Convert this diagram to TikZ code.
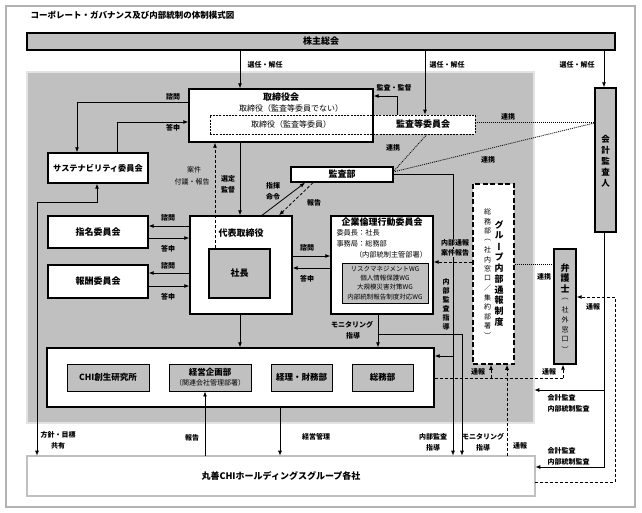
\documentclass[tikz,border=0pt]{standalone}
\usepackage{fontspec}
\setmainfont{Noto Sans CJK JP}
\newfontfamily\vjp[RawFeature=+vert]{Noto Sans CJK JP}
\usetikzlibrary{arrows.meta,calc}
\definecolor{bg}{RGB}{192,192,192}
\newcommand\fsz[1]{\fontsize{#1}{#1}\selectfont}
\newcommand\vstk[6]{\foreach \c [count=\i from 0] in {#5} {\node[font=#4, inner sep=0pt] (#6\i) at (#1, #2+\i*#3) {\c};}}
\tikzset{
  bx/.style={draw, line width=1.4pt, fill=white, inner sep=0pt, font=\fsz{9}\bfseries},
  gbx/.style={bx, fill=bg},
  ibx/.style={draw, line width=0.9pt, fill=bg, inner sep=0pt, font=\fsz{8.5}\bfseries},
  con/.style={line width=0.8pt},
  arr/.style={con, ->},
  darr/.style={con, ->, dash pattern=on 3pt off 2pt},
  dsh/.style={con, dash pattern=on 3pt off 2pt},
  dotl/.style={con, dash pattern=on 1pt off 1pt},
  lbl/.style={font=\fsz{7}\bfseries, inner sep=0.5pt},
  dbl/.style={draw, line width=0.6pt, double distance=1.3pt, inner sep=0pt},
}
\begin{document}
\begin{tikzpicture}[x=1pt, y=-1pt, >={Latex[length=5pt,width=4pt]}]
\useasboundingbox (0,0) rectangle (642,513);
\fill[white] (0,0) rectangle (642,513);
% outer frame
\draw[line width=0.6pt, draw=black!85, double=black!30, double distance=1.2pt] (6,6) rectangle (635,507);
\node[anchor=west, font=\fsz{8.5}\bfseries] (title) at (27,15) {コーポレート・ガバナンス及び内部統制の体制模式図};

% grey region
\node[dbl, double=white!55!bg, fill=bg, minimum width=507, minimum height=351] (reg) at (280.5,247.5) {};

% shareholders
\node[bx, fill=bg, minimum width=588, minimum height=17] (kabu) at (321,41.5) {株主総会};

% board
\fill[white] (373,115) rectangle (475,134);
\node[bx, minimum width=184, minimum height=53] (tori) at (281,115.5) {};
\node[draw, line width=0.7pt, dash pattern=on 2pt off 1.2pt, minimum width=265, minimum height=19, inner sep=0pt] (kiin) at (342.5,124.5) {};
\node[font=\fsz{9}\bfseries] (toriT) at (281,97) {取締役会};
\node[font=\fsz{8}] (toriA) at (291,108) {取締役（監査等委員でない）};
\node[font=\fsz{8}] (toriB) at (291,124.5) {取締役（監査等委員）};
\node[font=\fsz{9}\bfseries] (kiinT) at (423,124.5) {監査等委員会};

% committees
\node[bx, font=\fsz{8.2}\bfseries, minimum width=100, minimum height=30] (sus) at (98,168) {サステナビリティ委員会};
\node[bx, minimum width=100, minimum height=32] (shimei) at (98,232) {指名委員会};
\node[bx, minimum width=100, minimum height=33] (hoshu) at (98,281.5) {報酬委員会};

% representative director
\node[bx, minimum width=102, minimum height=98] (daihyo) at (241,265) {};
\node[font=\fsz{9}\bfseries] (daihyoT) at (241,233) {代表取締役};
\node[gbx, minimum width=61, minimum height=49] (shacho) at (239.5,273.5) {社長};

% audit dept
\node[bx, minimum width=102, minimum height=15] (kansabu) at (342,174.5) {監査部};

% ethics committee
\node[bx, minimum width=102, minimum height=98] (kigyo) at (382,265) {};
\node[font=\fsz{9}\bfseries] (kigyoT) at (382,222) {企業倫理行動委員会};
\node[font=\fsz{7.2}, anchor=west] (kigyoA) at (333,233) {委員長：社長};
\node[font=\fsz{7.2}, anchor=west] (kigyoB) at (333,244) {事務局：総務部};
\node[font=\fsz{7.2}] (kigyoC) at (391,255) {（内部統制主管部署）};
\node[draw, line width=0.8pt, fill=bg, minimum width=86, minimum height=40, inner sep=0pt, align=center, font=\fontsize{6.5}{9.3}\selectfont] (wg) at (385,283) {リスクマネジメントWG\\個人情報保護WG\\大規模災害対策WG\\内部統制報告制度対応WG};

% outside parties
\node[gbx, minimum width=21, minimum height=144] (kaikei) at (605.5,160) {};
\vstk{605.5}{139}{11}{\fsz{8.5}\bfseries}{会,計,監,査,人}{kk}
\node[gbx, minimum width=22, minimum height=115] (bengo) at (565,306.5) {};
\vstk{565}{268}{10.5}{\vjp\fsz{9}\bfseries}{弁,護,士}{bg}
\vstk{565}{299.5}{10}{\vjp\fsz{7}}{（,社,外,窓,口,）}{bs}

% whistleblowing system
\node[bx, line width=1.5pt, dash pattern=on 5pt off 2.5pt, minimum width=41, minimum height=180] (tsuho) at (493.5,274) {};
\vstk{499}{225}{10.8}{\vjp\fsz{9}\bfseries}{グ,ル,ー,プ,内,部,通,報,制,度}{tg}
\vstk{487.5}{212}{9.5}{\vjp\fsz{7}}{総,務,部,（,社,内,窓,口,／,集,約,部,署,）}{ts}

% departments
\node[bx, minimum width=387, minimum height=59] (bu) at (240.5,377.5) {};
\node[ibx, minimum width=82, minimum height=27] (chi) at (108,377.5) {CHI創生研究所};
\node[ibx, minimum width=82, minimum height=27, align=center, font=\fontsize{8.5}{10}\selectfont\bfseries] (keiei) at (210,377.5) {経営企画部\\{\fsz{7}\mdseries（関連会社管理部署）}};
\node[ibx, minimum width=61, minimum height=27] (keiri) at (301.5,377.5) {経理・財務部};
\node[ibx, minimum width=61, minimum height=27] (somu) at (382.5,377.5) {総務部};

% group companies
\node[dbl, double=bg, fill=white, minimum width=508, minimum height=40, font=\fsz{9}\bfseries] (gsha) at (281,476) {丸善CHIホールディングスグループ各社};

% ---- connectors ----
\draw[arr] (240,0 |- kabu.south) -- (240,0 |- tori.north);
\node[lbl] (l1) at (265,65) {選任・解任};
\draw[arr] (425,0 |- kabu.south) -- (425,0 |- kiin.north);
\node[lbl] (l2) at (447,65) {選任・解任};
\draw[arr] (604,0 |- kabu.south) -- (604,0 |- kaikei.north);
\node[lbl] (l3) at (577,65) {選任・解任};

\draw[arr] (397,0 |- kiin.north) |- (tori.east |- 0,96);
\node[lbl] (l4) at (394,88) {監査・監督};

\draw[arr] (tori.west |- 0,102) -| (77,0 |- sus.north);
\node[lbl] (l5) at (173,97) {諮問};
\draw[arr] (117,0 |- sus.north) |- (tori.west |- 0,122);
\node[lbl] (l6) at (173,128) {答申};

\coordinate (hk) at (37,202);
\draw[con, <->] (97,0 |- sus.south) |- (hk) -- (37,0 |- gsha.north);
\node[lbl] (l7) at (58,435) {方針・目標};
\node[lbl] (l8) at (58,446) {共有};

\draw[arr] (240,0 |- tori.south) -- (240,0 |- daihyo.north);
\node[lbl] (l9) at (228,179) {選定};
\node[lbl] (l10) at (228,190) {監督};
\draw[darr] (215,0 |- shacho.north) -- (215,0 |- tori.south);
\node[lbl, font=\fsz{7}] (l11) at (194,170) {案件};
\node[lbl, font=\fsz{7}] (l12) at (192,182) {付議・報告};

\draw[arr] (262,0 |- daihyo.north) -- (305,0 |- kansabu.south);
\node[lbl] (l13) at (273,186) {指揮};
\node[lbl] (l14) at (273,197) {命令};
\draw[darr] (313,0 |- kansabu.south) -- (279,0 |- daihyo.north);
\node[lbl] (l15) at (314,203) {報告};

\coordinate (kbe) at (393,172);
\draw[dotl] (427,0 |- kiin.south) -- (kbe);
\node[lbl] (l16) at (393,148) {連携};
\draw[dotl] (kbe) -- (kaikei.west |- 0,123);
\node[lbl] (l17) at (488,160) {連携};
\draw[dotl] (kiin.east |- 0,122) -- (kaikei.west |- 0,122);
\node[lbl] (l18) at (508,116.5) {連携};

\draw[arr] (daihyo.west |- 0,226) -- (shimei.east |- 0,226);
\node[lbl] (l19) at (168,218) {諮問};
\draw[arr] (shimei.east |- 0,238) -- (daihyo.west |- 0,238);
\node[lbl] (l20) at (168,249) {答申};
\draw[arr] (daihyo.west |- 0,273) -- (hoshu.east |- 0,273);
\node[lbl] (l21) at (168,266) {諮問};
\draw[arr] (hoshu.east |- 0,286) -- (daihyo.west |- 0,286);
\node[lbl] (l22) at (168,297) {答申};

\draw[arr] (daihyo.east |- 0,256) -- (kigyo.west |- 0,256);
\node[lbl] (l23) at (307,248) {諮問};
\draw[arr] (kigyo.west |- 0,268) -- (daihyo.east |- 0,268);
\node[lbl] (l24) at (307,279) {答申};

\draw[arr] (240,0 |- daihyo.south) -- (240,0 |- bu.north);

\draw[arr] (378,0 |- kigyo.south) -- (378,0 |- bu.north);
\node[lbl] (l25) at (352,325) {モニタリング};
\node[lbl] (l26) at (353,336) {指導};
\coordinate (mb) at (378,334);
\draw[arr] (mb) -| (462,0 |- gsha.north);
\node[lbl] (l27) at (483,437) {モニタリング};
\node[lbl] (l28) at (483,448) {指導};

\draw[arr] (kansabu.east) -| (453,0 |- gsha.north);
\coordinate (ka) at (453,356);
\draw[arr] (ka) -- (bu.east |- ka);
\node[lbl] (l29) at (433,437) {内部監査};
\node[lbl] (l30) at (433,448) {指導};
\vstk{446}{282}{9}{\fsz{7}\bfseries}{内,部,監,査,指,導}{nk}

\draw[darr] (tsuho.west |- 0,262) -- (kigyo.east |- 0,262);
\node[lbl, fill=bg] (l31) at (455,243) {内部通報};
\node[lbl, fill=bg] (l32) at (455,253) {案件報告};

\draw[dotl] (tsuho.east |- 0,264) -- (bengo.west |- 0,264);
\node[lbl] (l33) at (544,277) {連携};

\coordinate (tc) at (615,297);
\draw[dsh] (gsha.east |- 0,482) -| (tc);
\draw[darr] (tc) -- (bengo.east |- tc);
\node[lbl] (l34) at (593,307) {通報};

\coordinate (tb) at (491,378);
\draw[dsh] (bu.east |- tb) -- (563,378);
\draw[darr] (563,378) -- (563,0 |- bengo.south);
\draw[darr] (tb) -- (491,0 |- tsuho.south);
\node[lbl] (l35) at (478,372) {通報};
\node[lbl] (l36) at (549,372) {通報};

\draw[darr] (507,0 |- gsha.north) -- (507,0 |- tsuho.south);
\node[lbl] (l37) at (520,446) {通報};

\draw[arr] (205,0 |- gsha.north) -- (205,0 |- keiei.south);
\node[lbl] (l38) at (192,438) {報告};
\draw[arr] (280,0 |- bu.south) -- (280,0 |- gsha.north);
\node[lbl] (l39) at (316,437) {経営管理};

\draw[arr] (604,0 |- kaikei.south) |- (gsha.east |- 0,467);
\coordinate (kr) at (604,390);
\draw[arr] (kr) -- (reg.east |- kr);
\node[lbl, anchor=west] (l40) at (547,398) {会計監査};
\node[lbl, anchor=west] (l41) at (547,409) {内部統制監査};
\node[lbl, anchor=west] (l42) at (547,451) {会計監査};
\node[lbl, anchor=west] (l43) at (547,462) {内部統制監査};
\end{tikzpicture}
\end{document}
